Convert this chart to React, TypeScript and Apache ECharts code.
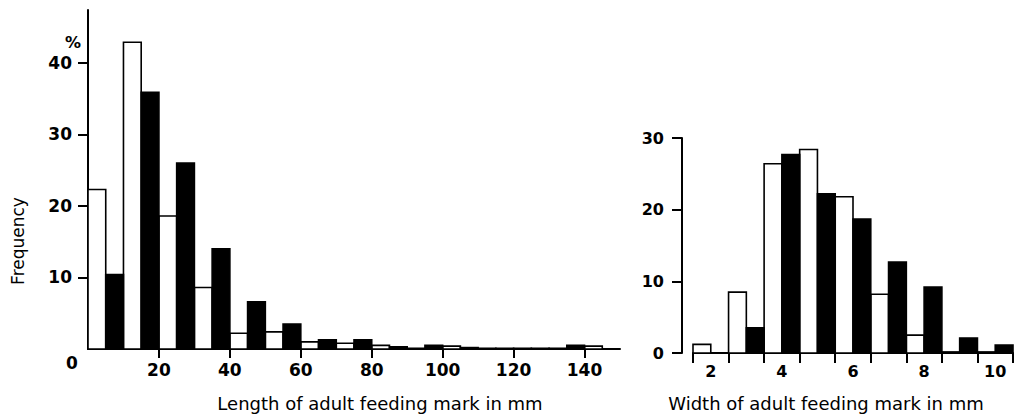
import React, { useEffect, useRef } from "react";
import * as echarts from "echarts";

// Left panel: length of adult feeding mark (mm), 10-mm classes
const lengthBins = [0, 10, 20, 30, 40, 50, 60, 70, 80, 90, 100, 110, 120, 130, 140];
const lengthWhite = [22.3, 42.9, 18.6, 8.6, 2.2, 2.4, 1.0, 0.8, 0.5, 0.1, 0.4, 0.1, 0.1, 0.1, 0.4];
const lengthBlack = [10.4, 35.9, 26.0, 14.0, 6.6, 3.5, 1.3, 1.3, 0.3, 0.5, 0.2, 0.1, 0.1, 0.5, 0];
const lengthTicks = [20, 40, 60, 80, 100, 120, 140];
const freqTicksLeft = [10, 20, 30, 40];

// Right panel: width of adult feeding mark (mm), 1-mm classes
const widthBins = [2, 3, 4, 5, 6, 7, 8, 9, 10];
const widthWhite = [1.2, 8.5, 26.4, 28.4, 21.8, 8.2, 2.5, 0.15, 0.15];
const widthBlack = [0, 3.5, 27.7, 22.2, 18.7, 12.7, 9.2, 2.1, 1.1];
const widthTickMarks = [1.5, 2.5, 3.5, 4.5, 5.5, 6.5, 7.5, 8.5, 9.5, 10.5];
const widthLabels = [2, 4, 6, 8, 10];
const freqTicksRight = [0, 10, 20, 30];

const LABEL_FONT = "'DejaVu Sans', 'Liberation Sans', sans-serif";

function rectItem(fill: string) {
  return (params: any, api: any) => {
    const x0 = api.value(0);
    const x1 = api.value(1);
    const y = api.value(2);
    const p0 = api.coord([x0, y]);
    const p1 = api.coord([x1, 0]);
    return {
      type: "rect",
      shape: { x: p0[0], y: p0[1], width: p1[0] - p0[0], height: p1[1] - p0[1] },
      style: { fill, stroke: "#000", lineWidth: 1.6 },
    };
  };
}

export default function App() {
  const ref = useRef<HTMLDivElement>(null);

  useEffect(() => {
    if (!ref.current) return;
    const chart = echarts.init(ref.current, null, { renderer: "svg" });

    const lenWhiteData = lengthBins.map((b, i) => [b, b + 5, lengthWhite[i]]);
    const lenBlackData = lengthBins.map((b, i) => [b + 5, b + 10, lengthBlack[i]]);
    const widWhiteData = widthBins.map((b, i) => [b - 0.5, b, widthWhite[i]]);
    const widBlackData = widthBins.map((b, i) => [b, b + 0.5, widthBlack[i]]);

    const axisLine = { show: true, lineStyle: { color: "#000", width: 2 } };
    const tickStyle = { color: "#000", width: 2 };

    chart.setOption({
      animation: false,
      backgroundColor: "#fff",
      grid: [
        { left: 88, top: 10, width: 532, height: 339 },
        { left: 693, top: 138, width: 320, height: 215 },
      ],
      xAxis: [
        {
          type: "value",
          gridIndex: 0,
          min: 0,
          max: 150,
          axisLine,
          axisTick: { show: true, customValues: lengthTicks, length: 9, lineStyle: tickStyle },
          axisLabel: {
            customValues: lengthTicks,
            margin: 12,
            color: "#000",
            fontSize: 17,
            fontWeight: "bold",
            fontFamily: LABEL_FONT,
          },
          splitLine: { show: false },
        },
        {
          type: "value",
          gridIndex: 1,
          min: 1.5,
          max: 10.5,
          axisLine,
          axisTick: { show: true, customValues: widthTickMarks, length: 10, lineStyle: tickStyle },
          axisLabel: {
            customValues: widthLabels,
            margin: 10,
            color: "#000",
            fontSize: 16,
            fontWeight: "bold",
            fontFamily: LABEL_FONT,
          },
          splitLine: { show: false },
        },
      ],
      yAxis: [
        {
          type: "value",
          gridIndex: 0,
          min: 0,
          max: 47.4,
          axisLine,
          axisTick: { show: true, customValues: freqTicksLeft, length: 10, lineStyle: tickStyle },
          axisLabel: {
            customValues: freqTicksLeft,
            margin: 16,
            color: "#000",
            fontSize: 17,
            fontWeight: "bold",
            fontFamily: LABEL_FONT,
          },
          splitLine: { show: false },
        },
        {
          type: "value",
          gridIndex: 1,
          min: 0,
          max: 30,
          offset: 11,
          axisLine,
          axisTick: { show: true, customValues: freqTicksRight, length: 10, lineStyle: tickStyle },
          axisLabel: {
            customValues: freqTicksRight,
            margin: 18,
            color: "#000",
            fontSize: 16,
            fontWeight: "bold",
            fontFamily: LABEL_FONT,
          },
          splitLine: { show: false },
        },
      ],
      series: [
        {
          type: "custom",
          xAxisIndex: 0,
          yAxisIndex: 0,
          renderItem: rectItem("#fff"),
          encode: { x: [0, 1], y: 2 },
          data: lenWhiteData,
        },
        {
          type: "custom",
          xAxisIndex: 0,
          yAxisIndex: 0,
          renderItem: rectItem("#000"),
          encode: { x: [0, 1], y: 2 },
          data: lenBlackData,
        },
        {
          type: "custom",
          xAxisIndex: 1,
          yAxisIndex: 1,
          renderItem: rectItem("#fff"),
          encode: { x: [0, 1], y: 2 },
          data: widWhiteData,
        },
        {
          type: "custom",
          xAxisIndex: 1,
          yAxisIndex: 1,
          renderItem: rectItem("#000"),
          encode: { x: [0, 1], y: 2 },
          data: widBlackData,
        },
      ],
      graphic: [
        {
          type: "text",
          x: 18,
          y: 241,
          rotation: Math.PI / 2,
          style: {
            text: "Frequency",
            align: "center",
            verticalAlign: "middle",
            fontSize: 17,
            fontFamily: LABEL_FONT,
            fill: "#000",
          },
        },
        {
          type: "text",
          x: 73,
          y: 42,
          style: {
            text: "%",
            align: "center",
            verticalAlign: "middle",
            fontSize: 16,
            fontWeight: "bold",
            fontFamily: LABEL_FONT,
            fill: "#000",
          },
        },
        {
          type: "text",
          x: 72,
          y: 363,
          style: {
            text: "0",
            align: "center",
            verticalAlign: "middle",
            fontSize: 17,
            fontWeight: "bold",
            fontFamily: LABEL_FONT,
            fill: "#000",
          },
        },
        {
          type: "text",
          x: 380,
          y: 403,
          style: {
            text: "Length of adult feeding mark in mm",
            align: "center",
            verticalAlign: "middle",
            fontSize: 18,
            fontFamily: LABEL_FONT,
            fill: "#000",
          },
        },
        {
          type: "text",
          x: 826,
          y: 403,
          style: {
            text: "Width of adult feeding mark in mm",
            align: "center",
            verticalAlign: "middle",
            fontSize: 18,
            fontFamily: LABEL_FONT,
            fill: "#000",
          },
        },
      ],
    });

    return () => chart.dispose();
  }, []);

  return (
    <div
      ref={ref}
      style={{ position: "absolute", left: 0, top: 0, width: 1017, height: 420, background: "#fff" }}
    />
  );
}
